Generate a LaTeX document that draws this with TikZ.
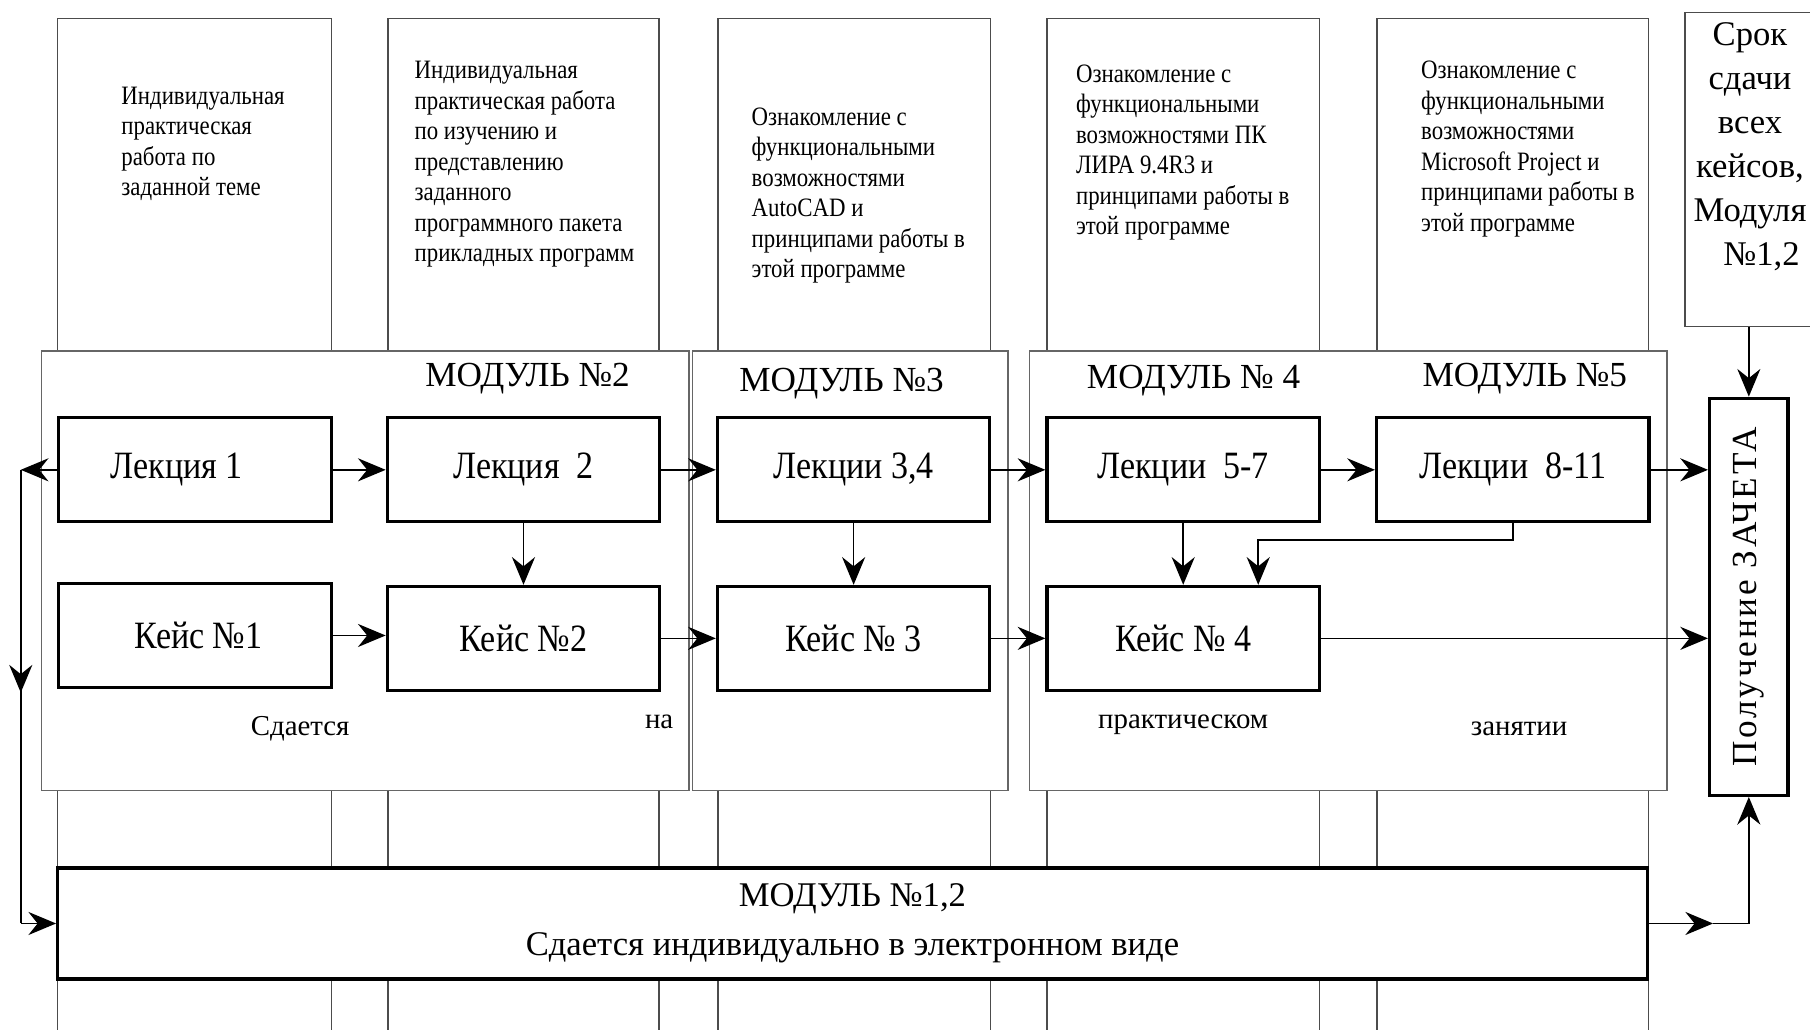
\documentclass[tikz,border=0pt]{standalone}
\usepackage{fontspec}
\setmainfont{Liberation Serif}
\newfontfamily\narrowserif[FakeStretch=0.88]{Liberation Serif}
\newfontfamily\descserif[FakeStretch=0.86]{Liberation Serif}
\newfontfamily\spacedserif[LetterSpace=8]{Liberation Serif}
\usetikzlibrary{arrows.meta}

\tikzset{
  col/.style={draw=black!70, line width=1.3pt},
  frame/.style={draw=black!60, line width=1.3pt, fill=white},
  box/.style={draw=black, line width=2.8pt, fill=white, minimum width=236pt,
    minimum height=90pt, inner sep=0pt, font=\narrowserif\fontsize{33.5}{35}\selectfont},
  line/.style={line width=1.4pt},
  conn/.style={line width=1.4pt, -{Stealth[length=24pt,width=20pt,inset=8pt]}},
  desc/.style={anchor=north west, align=left, inner sep=0pt,
    font=\descserif\fontsize{23}{26.4}\selectfont},
  modlabel/.style={font=\fontsize{30.5}{32}\selectfont, inner sep=0pt},
  note/.style={font=\fontsize{25}{28}\selectfont, inner sep=0pt},
}

\begin{document}
\begin{tikzpicture}[x=1pt, y=-1pt]
\useasboundingbox[fill=white] (0,0) rectangle (1568,892);

% description columns running down the whole sheet
\foreach \l/\r in {50/287, 336/571, 622/858, 907/1143, 1193/1428}
  \draw[col] (\l,892) -- (\l,16) -- (\r,16) -- (\r,892);

% module frames
\draw[frame] (36,304) rectangle (597,685);
\draw[frame] (600,304) rectangle (873,685);
\draw[frame] (892,304) rectangle (1444,685);

% column texts
\node[desc] (d1) at (105,75) {Индивидуальная\\практическая\\работа по\\заданной теме};
\node[desc] (d2) at (359,53) {Индивидуальная\\практическая работа\\по изучению и\\представлению\\заданного\\программного пакета\\прикладных программ};
\node[desc] (d3) at (651,93) {Ознакомление с\\функциональными\\возможностями\\AutoCAD и\\принципами работы в\\этой программе};
\node[desc] (d4) at (932,56) {Ознакомление с\\функциональными\\возможностями ПК\\ЛИРА 9.4R3 и\\принципами работы в\\этой программе};
\node[desc] (d5) at (1231,53) {Ознакомление с\\функциональными\\возможностями\\Microsoft Project и\\принципами работы в\\этой программе};

% deadline box
\node[draw=black!70, line width=1.3pt, minimum width=115pt, minimum height=272pt,
  inner sep=0pt] (srok) at (1517,147) {};
\node[inner sep=0pt, align=center, font=\fontsize{30}{38}\selectfont]
  (sroktext) at (1516,127) {Срок\\сдачи\\всех\\кейсов,\\Модуля\\\hspace*{20pt}№1,2};

% module titles
\node[modlabel] (m2) at (457,328) {МОДУЛЬ №2};
\node[modlabel] (m3) at (729,332) {МОДУЛЬ №3};
\node[modlabel] (m4) at (1034,330) {МОДУЛЬ № 4};
\node[modlabel] (m5) at (1321,328) {МОДУЛЬ №5};

% lectures
\node[box] (L1) at (169,407) {Лекция 1\rule{32pt}{0pt}};
\node[box] (L2) at (453.5,407) {Лекция~~2};
\node[box] (L34) at (739.5,407) {Лекции 3,4};
\node[box] (L57) at (1025,407) {Лекции~~5-7};
\node[box] (L811) at (1310.5,407) {Лекции~~8-11};

% cases
\node[box] (K1) at (169,550.5) {\rule{6pt}{0pt}Кейс №1};
\node[box] (K2) at (453.5,553) {Кейс №2};
\node[box] (K3) at (739.5,553) {Кейс № 3};
\node[box] (K4) at (1025,553) {Кейс № 4};

% notes under the cases
\node[note] (n1) at (260,631) {Сдается};
\node[note] (n2) at (571,625) {на};
\node[note] (n3) at (1025,628) {практическом};
\node[note] (n4) at (1316,631) {занятии};

% credit box
\node[draw=black, line width=2.8pt, fill=white, minimum width=68pt,
  minimum height=344pt, inner sep=0pt] (zach) at (1515,517) {};
\node[rotate=90, inner sep=0pt, font=\spacedserif\fontsize{30.5}{34}\selectfont]
  (zachtext) at (zach.center) {Получение ЗАЧЕТА};

% electronic module bar
\node[draw=black, line width=2.8pt, fill=white, minimum width=1377pt,
  minimum height=96pt, inner sep=0pt, align=center,
  font=\fontsize{30}{42}\selectfont] (bar) at (738.5,800)
  {МОДУЛЬ №1,2\\Сдается индивидуально в электронном виде};

% lecture chain
\draw[conn] (L1.east) -- (L1.east -| L2.west);
\draw[conn] (L2.east) -- (L2.east -| L34.west);
\draw[conn] (L34.east) -- (L34.east -| L57.west);
\draw[conn] (L57.east) -- (L57.east -| L811.west);
\draw[conn] (L811.east) -- (L811.east -| zach.west);

% case chain
\draw[conn] (K1.east) -- (K1.east -| K2.west);
\draw[conn] (K2.east) -- (K2.east -| K3.west);
\draw[conn] (K3.east) -- (K3.east -| K4.west);
\draw[conn] (K4.east) -- (K4.east -| zach.west);

% lectures feeding cases
\draw[conn] (L2.south) -- (L2.south |- K2.north);
\draw[conn] (L34.south) -- (L34.south |- K3.north);
\draw[conn] (L57.south) -- (L57.south |- K4.north);
\coordinate (t1) at (1310.5,468);
\coordinate (t2) at (1090,468);
\draw[conn] (L811.south) -- (t1) -- (t2) -- (t2 |- K4.north);

% left return loop to the electronic module
\coordinate (c1) at (18,407);
\coordinate (c1m) at (18,600);
\coordinate (c2) at (18,800);
\draw[conn] (L1.west) -- (c1);
\draw[line] (c1) -- (c2);
\draw[conn] (c1) -- (c1m);
\draw[conn] (c2) -- (bar.west);

% electronic module to credit
\coordinate (rm) at (1484,800);
\draw[conn] (bar.east) -- (rm);
\draw[conn] (rm) -- (zach.south |- rm) -- (zach.south);

% deadline to credit
\draw[conn] (zach.north |- srok.south) -- (zach.north);
\end{tikzpicture}
\end{document}
